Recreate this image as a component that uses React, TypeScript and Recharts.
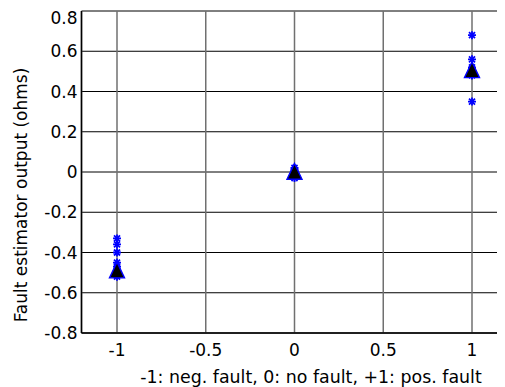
import React from 'react';
import { ScatterChart, Scatter, XAxis, YAxis, CartesianGrid, Label } from 'recharts';

// fault case on the x axis
const faultCases = [-1, 0, 1];

// individual estimator outputs per fault case (ohms)
const negFaultEstimates = [-0.33, -0.36, -0.4, -0.45, -0.47, -0.49, -0.5, -0.51, -0.52];
const noFaultEstimates = [0.02, 0.01, 0.0, -0.01, -0.02, -0.03];
const posFaultEstimates = [0.68, 0.56, 0.52, 0.5, 0.48, 0.35];

// mean estimate per fault case
const meanEstimates = [-0.49, 0.0, 0.505];

const xTicks = [-1, -0.5, 0, 0.5, 1];
const yTicks = [-0.8, -0.6, -0.4, -0.2, 0, 0.2, 0.4, 0.6, 0.8];

const estimates = [negFaultEstimates, noFaultEstimates, posFaultEstimates].flatMap((vals, i) =>
    vals.map((v) => ({ x: faultCases[i], y: v }))
);
const means = faultCases.map((c, i) => ({ x: c, y: meanEstimates[i] }));

const font = 'DejaVu Sans';

const Star = (props: any) => {
    const { cx, cy } = props;
    const r = 4;
    const d = r * 0.75;
    return (
        <g stroke="#0000ff" strokeWidth={1.8}>
            <line x1={cx - r} y1={cy} x2={cx + r} y2={cy} />
            <line x1={cx} y1={cy - r} x2={cx} y2={cy + r} />
            <line x1={cx - d} y1={cy - d} x2={cx + d} y2={cy + d} />
            <line x1={cx - d} y1={cy + d} x2={cx + d} y2={cy - d} />
        </g>
    );
};

const Triangle = (props: any) => {
    const { cx, cy } = props;
    const w = 7.5;
    const h = 8.5;
    return (
        <polygon
            points={`${cx},${cy - h} ${cx + w},${cy + h * 0.85} ${cx - w},${cy + h * 0.85}`}
            fill="#000"
            stroke="#0000ff"
            strokeWidth={1.4}
        />
    );
};

const fmtY = (v: number) => (v === 0 ? '0' : v.toFixed(1));
const fmtX = (v: number) => String(v);

export default function App() {
    return (
        <div style={{ width: 497, height: 379, overflow: 'hidden' }}>
            <ScatterChart
                width={510}
                height={379}
                margin={{ top: 3, right: 10.5, bottom: 0, left: 0 }}
            >
                <CartesianGrid vertical={false} stroke="#000" strokeWidth={1} />
                <CartesianGrid horizontal={false} stroke="#707070" strokeWidth={1.5} />
                <XAxis
                    type="number"
                    dataKey="x"
                    domain={[-1.2, 1.2]}
                    ticks={xTicks}
                    tickFormatter={fmtX}
                    height={54}
                    tickLine={false}
                    tickSize={0}
                    tickMargin={11}
                    axisLine={{ stroke: '#000', strokeWidth: 1.5 }}
                    tick={{ fill: '#000', fontSize: 17, fontFamily: font }}
                    allowDataOverflow
                >
                    <Label
                        content={() => (
                            <text x={303} y={375} textAnchor="middle" fontSize={17.4} fontFamily={font} fill="#000">
                                -1: neg. fault, 0: no fault, +1: pos. fault
                            </text>
                        )}
                    />
                </XAxis>
                <YAxis
                    type="number"
                    dataKey="y"
                    domain={[-0.8, 0.8]}
                    ticks={yTicks}
                    tickFormatter={fmtY}
                    width={73.5}
                    tickLine={false}
                    tickSize={0}
                    tickMargin={4}
                    axisLine={{ stroke: '#000', strokeWidth: 1.5 }}
                    tick={{ fill: '#000', fontSize: 17, fontFamily: font }}
                    allowDataOverflow
                >
                    <Label
                        content={() => (
                            <text
                                transform="rotate(-90)"
                                x={-187}
                                y={18.7}
                                textAnchor="middle"
                                fontSize={17}
                                fontFamily={font}
                                fill="#000"
                            >
                                Fault estimator output (ohms)
                            </text>
                        )}
                    />
                </YAxis>
                <Scatter data={estimates} shape={Star} isAnimationActive={false} />
                <Scatter data={means} shape={Triangle} isAnimationActive={false} />
            </ScatterChart>
        </div>
    );
}
